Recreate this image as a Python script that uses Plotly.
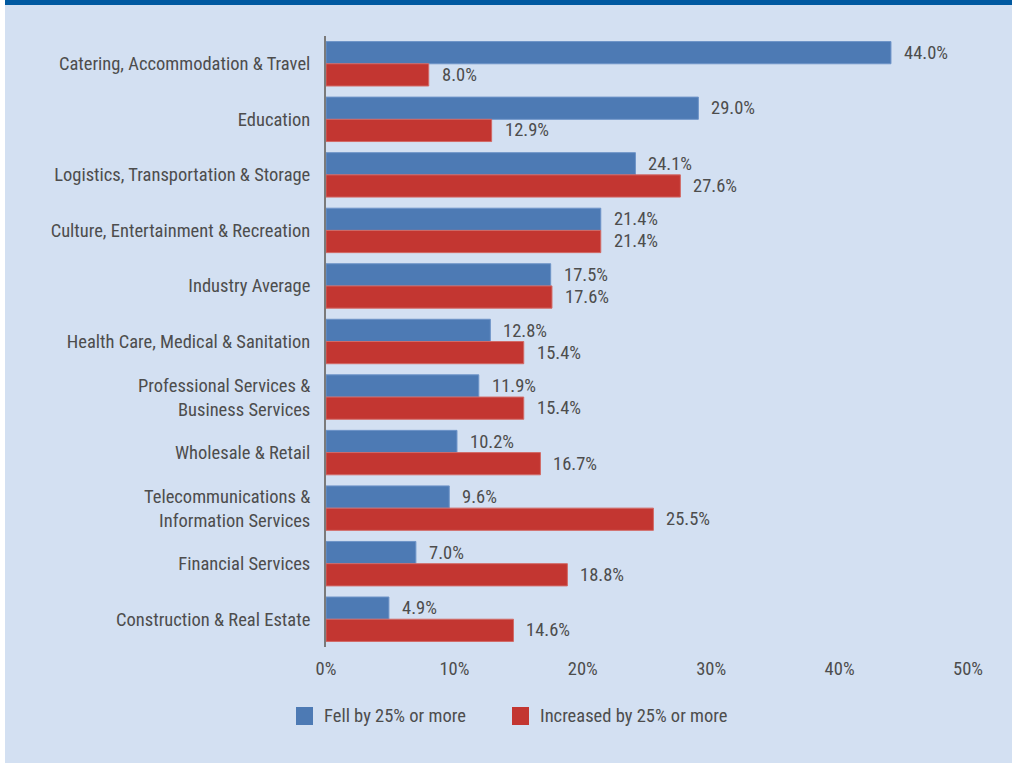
import plotly.graph_objects as go

categories = [
    "Catering, Accommodation & Travel",
    "Education",
    "Logistics, Transportation & Storage",
    "Culture, Entertainment & Recreation",
    "Industry Average",
    "Health Care, Medical & Sanitation",
    "Professional Services &<br>Business Services",
    "Wholesale & Retail",
    "Telecommunications &<br>Information Services",
    "Financial Services",
    "Construction & Real Estate",
]
fell = [44.0, 29.0, 24.1, 21.4, 17.5, 12.8, 11.9, 10.2, 9.6, 7.0, 4.9]
increased = [8.0, 12.9, 27.6, 21.4, 17.6, 15.4, 15.4, 16.7, 25.5, 18.8, 14.6]
series_names = ["Fell by 25% or more", "Increased by 25% or more"]
x_ticks = [0, 10, 20, 30, 40, 50]

BLUE = "#4d7ab4"
RED = "#c33631"
BG = "#d3e0f2"
TEXT = "#4d4d4d"
FONT = "Liberation Sans Narrow, Roboto Condensed, Arial Narrow, Roboto, sans-serif"
FS = 18.5

W, H = 1012, 763
ML, MR, MT, MB = 326, 44, 36, 116
PW, PH = W - ML - MR, H - MT - MB


def px(xpix):
    return (xpix - ML) / PW


def py(ypix):
    return (H - MB - ypix) / PH


def tfont():
    return dict(family=FONT, size=FS, color=TEXT)


fig = go.Figure()
fig.add_trace(go.Bar(
    y=categories, x=fell, orientation="h", name=series_names[0],
    marker=dict(color=BLUE, line=dict(color="#6e94c8", width=1)),
    showlegend=False,
))
fig.add_trace(go.Bar(
    y=categories, x=increased, orientation="h", name=series_names[1],
    marker=dict(color=RED, line=dict(color="#d26a66", width=1)),
    showlegend=False,
))

# value labels beside each bar
for cat, v in zip(categories, fell):
    fig.add_annotation(x=v, y=cat, xref="x", yref="y", text=f"{v:.1f}%",
                       showarrow=False, xanchor="left", xshift=11, yshift=11,
                       font=tfont())
for cat, v in zip(categories, increased):
    fig.add_annotation(x=v, y=cat, xref="x", yref="y", text=f"{v:.1f}%",
                       showarrow=False, xanchor="left", xshift=11, yshift=-11,
                       font=tfont())

# legend drawn as swatches + labels
legend_items = [(296, series_names[0], BLUE), (512, series_names[1], RED)]
for x0, label, col in legend_items:
    fig.add_shape(type="rect", xref="paper", yref="paper",
                  x0=px(x0), x1=px(x0 + 17), y0=py(725), y1=py(707),
                  fillcolor=col, line=dict(width=0))
    fig.add_annotation(xref="paper", yref="paper", x=px(x0 + 26), y=py(716),
                       text=label, showarrow=False, xanchor="left", yanchor="middle",
                       font=tfont())

# page frame: white left strip and dark top band
fig.add_shape(type="rect", xref="paper", yref="paper", layer="below",
              x0=px(0), x1=px(5), y0=py(H), y1=py(0),
              fillcolor="white", line=dict(width=0))
fig.add_shape(type="rect", xref="paper", yref="paper", layer="below",
              x0=px(5), x1=px(W), y0=py(5), y1=py(0),
              fillcolor="#0059a1", line=dict(width=0))

fig.update_layout(
    width=W, height=H,
    margin=dict(l=ML, r=MR, t=MT, b=MB, pad=0),
    paper_bgcolor=BG, plot_bgcolor=BG,
    barmode="group", bargap=0.2, bargroupgap=0,
    font=tfont(),
    xaxis=dict(range=[0, 50], tickvals=x_ticks, ticktext=[f"{t}%" for t in x_ticks],
               showgrid=False, zeroline=False, showline=False, ticks="",
               ticklabelstandoff=8, fixedrange=True, tickfont=tfont()),
    yaxis=dict(autorange="reversed", showgrid=False, zeroline=False,
               showline=True, linecolor="#7a7a7a", linewidth=2, ticks="",
               ticklabelstandoff=10, fixedrange=True, tickfont=tfont()),
)

fig.write_html("out.html")
